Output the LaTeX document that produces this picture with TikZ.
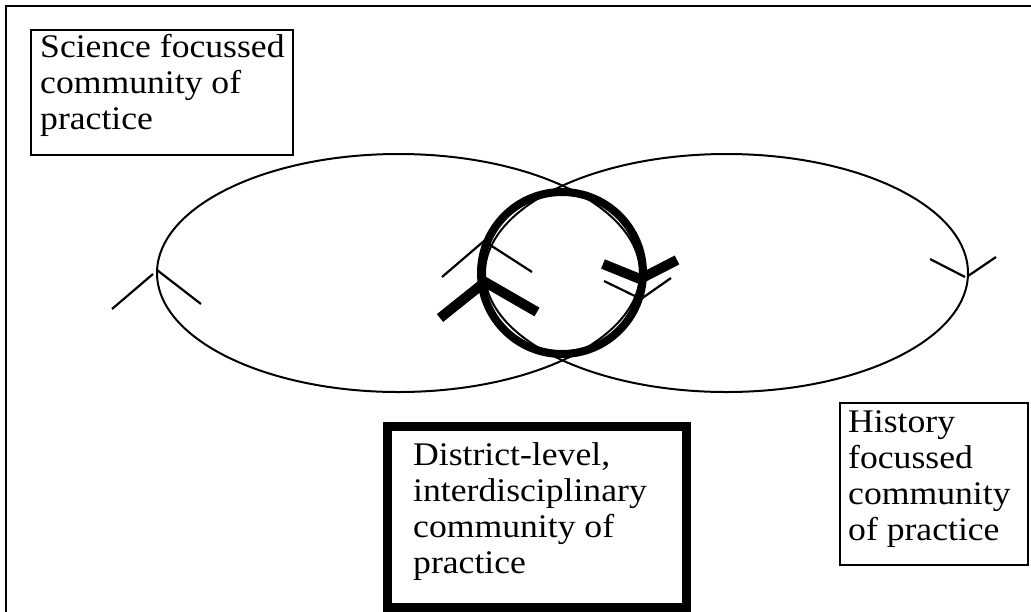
\documentclass[tikz,border=0pt]{standalone}
\usepackage{fontspec}
\setmainfont{Liberation Serif}[FakeStretch=1.08]
\begin{document}
\begin{tikzpicture}[x=1pt,y=-1pt,
  frame/.style={draw=black,line width=2.5pt},
  boxline/.style={draw=black,line width=2.6pt,minimum width=0pt,minimum height=0pt,anchor=north west,inner sep=0pt},
  thickbox/.style={draw=black,line width=9pt,anchor=north west,inner sep=0pt},
  txt/.style={anchor=base west,inner sep=0pt,align=left,font=\fontsize{33}{36}\selectfont},
  ell/.style={draw=black,line width=2pt},
  thinchev/.style={draw=black,line width=2.2pt},
  thickchev/.style={draw=black,line width=10pt,line join=miter,line cap=butt},
]
\useasboundingbox (0,0) rectangle (1031,611);
\clip (0,0) rectangle (1031,611);
% outer frame
\draw[frame] (6,6) rectangle (1100,700);
% ellipses
\draw[ell] (398.5,273) ellipse [x radius=241.5, y radius=119];
\draw[ell] (726.5,273) ellipse [x radius=241.5, y radius=119];
% thick circle
\draw[draw=black,line width=8pt] (562,273) circle [radius=81];
% chevrons on ellipses
\draw[thinchev] (112,309) -- (153,274);
\draw[thinchev] (157,270) -- (201,304);
\draw[thinchev] (930,259) -- (965,277);
\draw[thinchev] (968,276) -- (996,257);
\draw[thinchev] (442,277) -- (484,241) -- (532,272);
\draw[thinchev] (604,281) -- (641,299) -- (671,278);
% chevrons on circle
\draw[thickchev] (440,318) -- (485,282) -- (537,312);
\draw[thickchev] (603,264) -- (640,279) -- (677,260);
% boxes
\node[boxline,minimum width=262pt,minimum height=125pt] (sci) at (29.5,28.5) {};
\node[txt] (scit) at (40,129) {Science focussed\\community of\\practice};
\node[thickbox,minimum width=299pt,minimum height=181pt] (dist) at (382.5,421.5) {};
\node[txt] (distt) at (413,573) {District-level,\\interdisciplinary\\community of\\practice};
\node[boxline,line width=2.2pt,minimum width=188pt,minimum height=162pt] (hist) at (839,402) {};
\node[txt] (histt) at (848,540) {History\\focussed\\community\\of practice};
\end{tikzpicture}
\end{document}
